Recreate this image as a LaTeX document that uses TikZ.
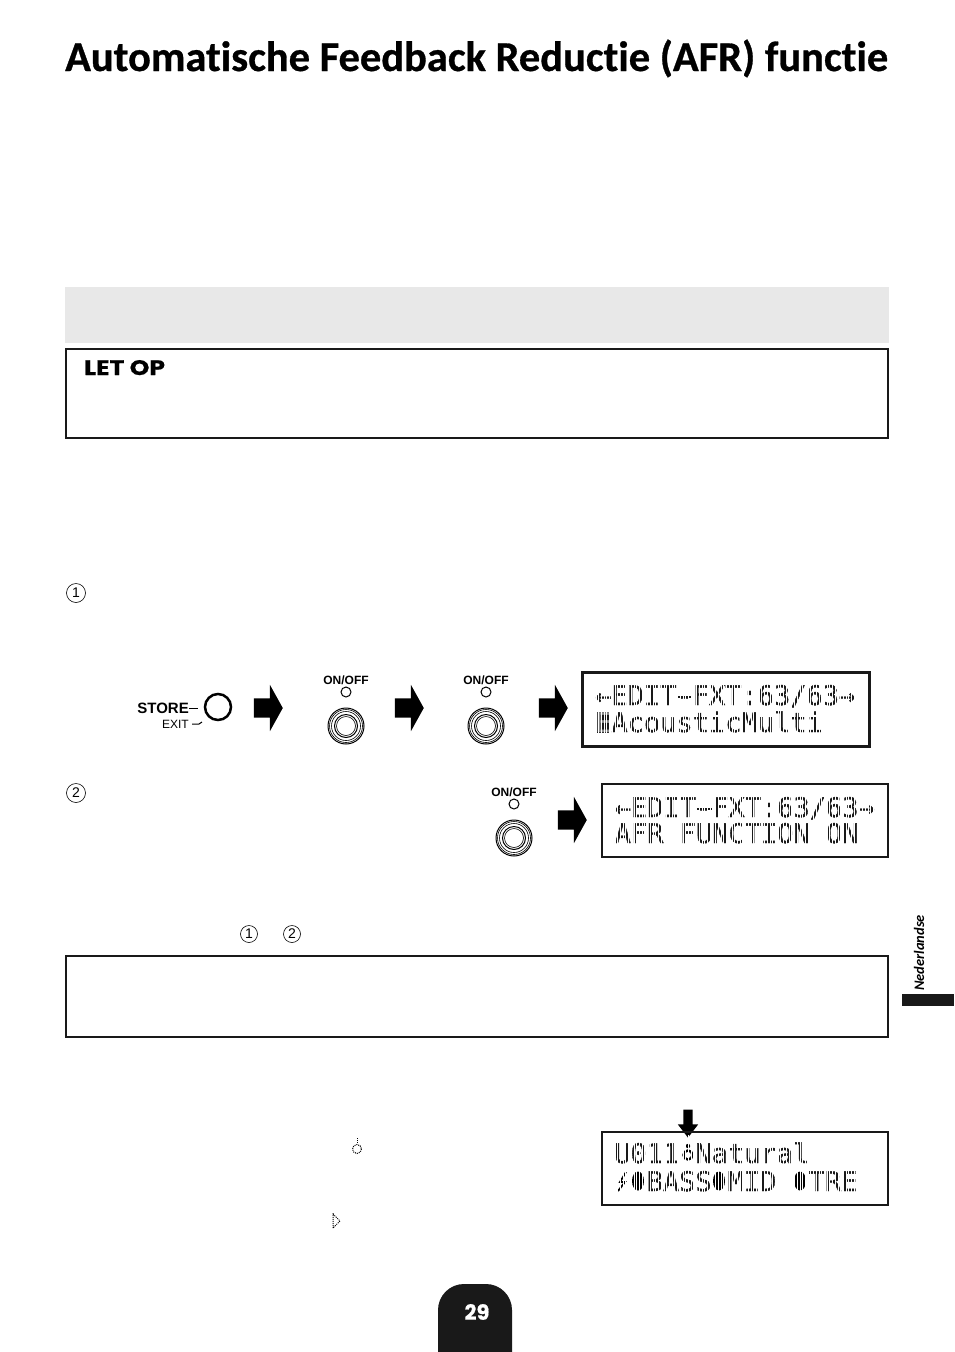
\documentclass[tikz,border=0pt]{standalone}
\usepackage{graphicx}
\usepackage{fontspec}
\setmainfont{Liberation Sans}
\newfontfamily\titleface[Ligatures={NoCommon,NoContextual},BoldFeatures={FakeBold=0.7}]{Carlito}
\newfontfamily\wideface[BoldFeatures={FakeBold=0.6}]{Poppins}
\newfontfamily\lcdface[FakeBold=1.4]{DejaVu Sans Mono}
\usetikzlibrary{shapes.arrows}
\tikzset{
	framebox/.style={draw=black!90,line width=2pt},
	blockarrow/.style={single arrow,fill=black,inner sep=0pt,shape border rotate=0,anchor=tip,
		text height=19pt,text depth=0pt,text width=0pt,
		minimum height=29pt,single arrow head extend=13.5pt,
		single arrow tip angle=122},
	lcdtext/.style={anchor=base west,inner sep=0pt,font=\lcdface\fontsize{27}{27}\selectfont,text=black!90},
	lcdgrid/.style={white,line width=.35pt,step=2.72},
	lcddash/.style={black!90,line width=2.6pt},
	stepnum/.style={draw,circle,line width=.6pt,inner sep=0pt,minimum size=17pt,font=\fontsize{14}{14}\selectfont},
	onoff/.style={font=\bfseries\fontsize{12}{12}\selectfont,inner sep=0pt}
}
\begin{document}
\begin{tikzpicture}[x=1pt,y=-1pt]
	\useasboundingbox (0,0) rectangle (954,1352);
	
	\node[anchor=base west,inner sep=0pt] (title) at (65,71)
		{\resizebox{823pt}{!}{\titleface\bfseries\fontsize{46}{46}\selectfont Automatische Feedback Reductie (AFR) functie}};
	
	\fill[black!9] (65,287) rectangle (889,343);
	\draw[framebox] (66,349) rectangle (888,438);
	\node[anchor=base west,inner sep=0pt] (letop) at (84,375)
		{\scalebox{1.25}[1.05]{\wideface\bfseries\fontsize{20}{20}\selectfont LET OP}};
	\draw[framebox] (66,956) rectangle (888,1037);
	
	\node[stepnum,minimum size=19pt] (stepa) at (76,593) {1};
	\node[stepnum,minimum size=19pt] (stepb) at (76,793) {2};
	\node[stepnum] (stepc) at (249,934) {1};
	\node[stepnum] (stepd) at (292,934) {2};
	
	% store button
	\node[anchor=east,inner sep=0pt,font=\bfseries\fontsize{15}{15}\selectfont] (store) at (189,708) {STORE};
	\node[anchor=east,inner sep=0pt,font=\fontsize{12}{12}\selectfont] (exit) at (189,724) {EXIT};
	\node[draw,circle,line width=2.5pt,minimum size=26pt,inner sep=0pt] (btn) at (218,707) {};
	\draw[line width=1pt] (store.east) -- ++(9,0);
	\draw[line width=1pt] (exit.east) ++(3,0) -- ++(7,0) -- ++(3,-2);
	
	% foot switches
	\foreach \n/\x/\y in {a/346/680,b/486/680,c/514/792} {
		\node[onoff] (lab\n) at (\x,\y) {ON/OFF};
		\node[draw,circle,line width=1pt,minimum size=10pt,inner sep=0pt] (led\n) at (\x,\y+12) {};
		\coordinate (sw\n) at (\x,\y+46);
		\draw[line width=1pt] (sw\n) circle (18);
		\draw[line width=.6pt] (sw\n) circle (16.5);
		\draw[line width=.6pt] (sw\n) circle (14.5);
		\draw[line width=1pt] (sw\n) circle (11.5);
		\draw[line width=.6pt] (sw\n) circle (9.5);
	}
	
	\node[blockarrow] (ara) at (283,708) {};
	\node[blockarrow] (arb) at (424,708) {};
	\node[blockarrow] (arc) at (568,708) {};
	\node[blockarrow] (ard) at (587,820) {};
	\node[single arrow,fill=black,inner sep=0pt,shape border rotate=270,anchor=tip,
		text width=9pt,text height=0pt,text depth=0pt,
		minimum height=28pt,single arrow head extend=5.5pt,single arrow tip angle=75] (are) at (688,1138) {};
	
	% lcd 1
	\fill[black!90] (596,712) rectangle (610,733);
	\node[lcdtext] (lcdaa) at (595,705) {←EDIT-FXT:63/63→};
	\node[lcdtext] (lcdab) at (595,732) {\textcolor{black!45}{E}AcousticMulti};
	\draw[lcddash] (677,697) -- (692,697);
	\draw[lcdgrid] (586,676) grid (865,742);
	\draw[black!90,line width=3pt] (582,672) rectangle (869,746);
	
	% lcd 2
	\node[lcdtext] (lcdba) at (614.5,817) {←EDIT-FXT:63/63→};
	\node[lcdtext] (lcdbb) at (614.5,843) {AFR FUNCTION ON};
	\draw[lcddash] (696.5,809) -- (711.5,809);
	\draw[lcdgrid] (605,787) grid (885,854);
	\draw[framebox] (602,784) rectangle (888,857);
	
	% lcd 3
	\node[lcdtext] (lcdca) at (614,1163) {U011 Natural};
	\node[lcdtext] (lcdcb) at (646.5,1191) {BASS};
	\node[lcdtext] (lcdcc) at (727.5,1191) {MID};
	\node[lcdtext] (lcdcd) at (808.5,1191) {TRE};
	\draw[line width=2.4pt] (688,1155) circle (4.5);
	\fill (688,1146) circle (2.2);
	\fill (638,1181) ellipse (6 and 9.5);
	\fill (719,1181) ellipse (6 and 9.5);
	\fill (800,1181) ellipse (6 and 9.5);
	\draw[line width=1.8pt] (626,1172) -- (620,1182) -- (625,1182) -- (618,1191);
	\draw[lcdgrid] (605,1135) grid (885,1202);
	\draw[framebox] (602,1132) rectangle (888,1205);
	
	% loose symbols
	\draw[line width=1pt,densely dotted] (357,1149) circle (4.5);
	\draw[line width=1pt,densely dotted] (357,1138) -- (357,1144);
	\draw[line width=1pt,densely dotted] (333,1213) -- (333,1229) (333,1214) -- (340,1221) -- (333,1228);
	
	% side tab
	\node[rotate=90,inner sep=0pt,font=\titleface\bfseries\itshape\fontsize{14.5}{14.5}\selectfont] (lang) at (919,953) {Nederlandse};
	\fill[black!90] (902,994) rectangle (954,1006);
	
	% page tab
	\fill[black!90,rounded corners=26pt] (438,1400) -- (438,1284) -- (512,1284) -- (512,1400) -- cycle;
	\node[text=white,inner sep=0pt,font=\wideface\bfseries\fontsize{21}{21}\selectfont] (page) at (477,1312) {29};
\end{tikzpicture}
\end{document}
